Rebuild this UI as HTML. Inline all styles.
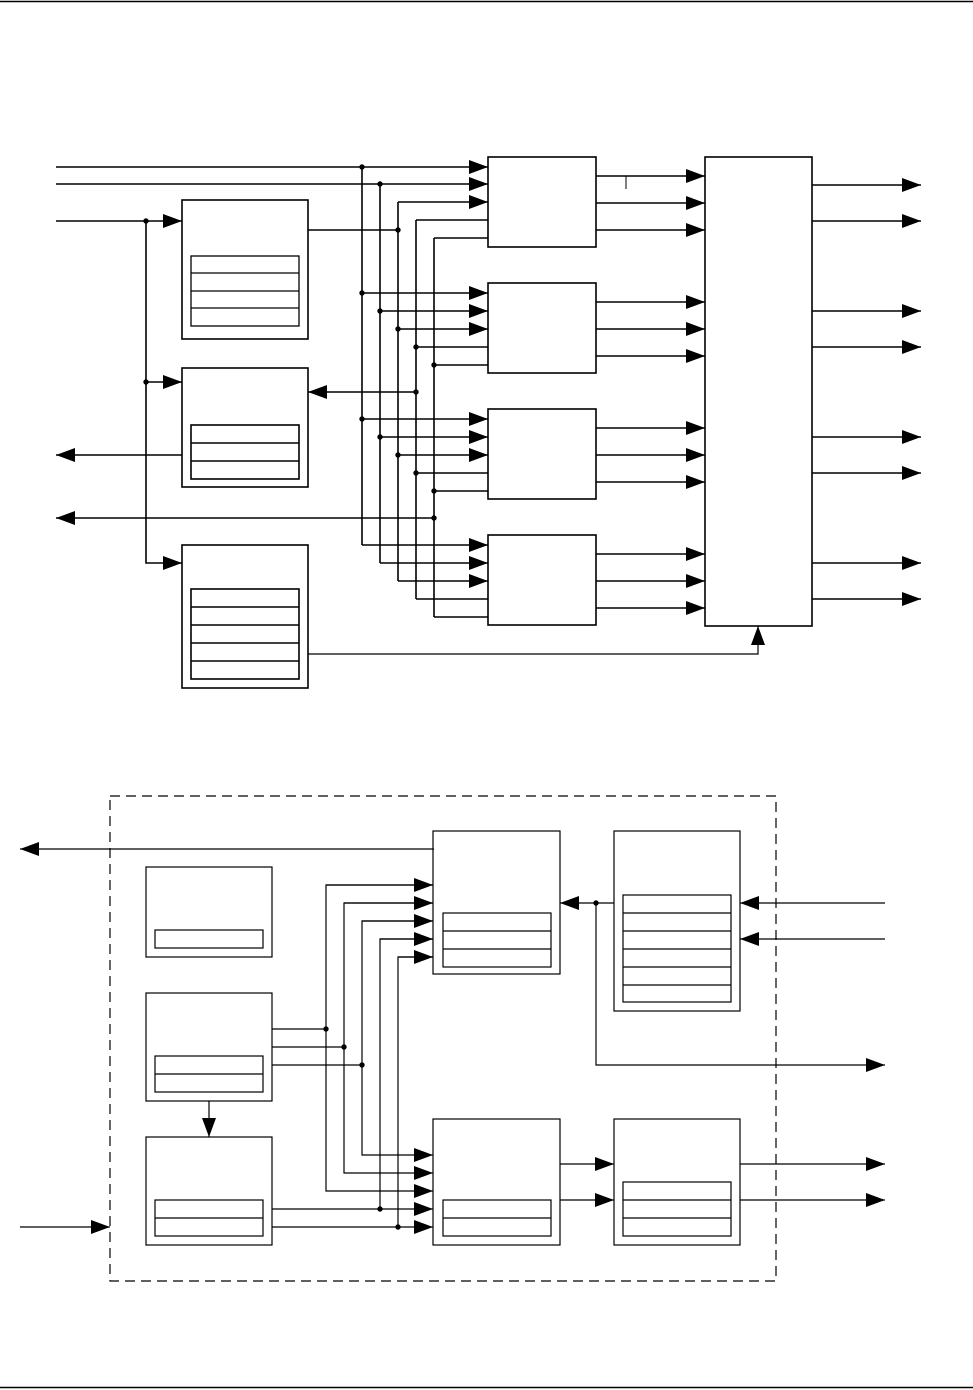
<!DOCTYPE html>
<html><head><meta charset="utf-8"><style>
html,body{margin:0;padding:0;background:#fff;}
svg{display:block;}
</style></head><body>
<svg width="973" height="1390" viewBox="0 0 973 1390" xmlns="http://www.w3.org/2000/svg">
<defs>
<marker id="a" markerUnits="userSpaceOnUse" markerWidth="20" markerHeight="14" refX="19" refY="7" orient="auto"><path d="M0,0 L19,7 L0,14 Z" fill="#000"/></marker>
</defs>
<rect width="973" height="1390" fill="#fff"/>
<line x1="0" y1="1.5" x2="973" y2="1.5" stroke="#000" stroke-width="1.5"/>
<line x1="0" y1="1387.5" x2="973" y2="1387.5" stroke="#000" stroke-width="1.5"/>

<g stroke="#000" stroke-width="1.6" fill="none">
<!-- top inputs -->
<line x1="56" y1="167" x2="488" y2="167" marker-end="url(#a)"/>
<line x1="56" y1="184" x2="488" y2="184" marker-end="url(#a)"/>
<line x1="56" y1="221" x2="182" y2="221" marker-end="url(#a)"/>
<polyline points="146,221 146,563 182,563" marker-end="url(#a)"/>
<line x1="146" y1="382" x2="182" y2="382" marker-end="url(#a)"/>
<!-- blocks left -->
<rect x="182" y="200" width="126" height="139"/>
<rect x="191" y="256" width="108" height="70" stroke-width="1.3"/>
<line x1="191" y1="273" x2="299" y2="273" stroke-width="1.3"/>
<line x1="191" y1="291" x2="299" y2="291" stroke-width="1.3"/>
<line x1="191" y1="308" x2="299" y2="308" stroke-width="1.3"/>
<rect x="182" y="368" width="126" height="119"/>
<rect x="191" y="425" width="108" height="54"/>
<line x1="191" y1="443" x2="299" y2="443"/>
<line x1="191" y1="461" x2="299" y2="461"/>
<rect x="182" y="545" width="126" height="143"/>
<rect x="191" y="589" width="108" height="90"/>
<line x1="191" y1="607" x2="299" y2="607"/>
<line x1="191" y1="625" x2="299" y2="625"/>
<line x1="191" y1="643" x2="299" y2="643"/>
<line x1="191" y1="661" x2="299" y2="661"/>
<!-- left outputs -->
<line x1="182" y1="455" x2="56" y2="455" marker-end="url(#a)"/>
<line x1="434" y1="518" x2="56" y2="518" marker-end="url(#a)"/>
<line x1="416" y1="392" x2="308" y2="392" marker-end="url(#a)"/>
<line x1="308" y1="230" x2="398" y2="230"/>
<polyline points="308,654 758,654 758,626" stroke-width="1.2" marker-end="url(#a)"/>
<!-- buses -->
<line x1="362" y1="167" x2="362" y2="545"/>
<line x1="380" y1="184" x2="380" y2="563"/>
<line x1="398" y1="202" x2="398" y2="581"/>
<line x1="416" y1="220" x2="416" y2="599"/>
<line x1="434" y1="238" x2="434" y2="617"/>
<line x1="398" y1="202" x2="488" y2="202" marker-end="url(#a)"/>
<line x1="416" y1="220" x2="488" y2="220"/>
<line x1="434" y1="238" x2="488" y2="238"/>
<line x1="362" y1="293" x2="488" y2="293" marker-end="url(#a)"/>
<line x1="380" y1="311" x2="488" y2="311" marker-end="url(#a)"/>
<line x1="398" y1="329" x2="488" y2="329" marker-end="url(#a)"/>
<line x1="416" y1="347" x2="488" y2="347"/>
<line x1="434" y1="365" x2="488" y2="365"/>
<line x1="362" y1="419" x2="488" y2="419" marker-end="url(#a)"/>
<line x1="380" y1="437" x2="488" y2="437" marker-end="url(#a)"/>
<line x1="398" y1="455" x2="488" y2="455" marker-end="url(#a)"/>
<line x1="416" y1="473" x2="488" y2="473"/>
<line x1="434" y1="491" x2="488" y2="491"/>
<line x1="362" y1="545" x2="488" y2="545" marker-end="url(#a)"/>
<line x1="380" y1="563" x2="488" y2="563" marker-end="url(#a)"/>
<line x1="398" y1="581" x2="488" y2="581" marker-end="url(#a)"/>
<line x1="416" y1="599" x2="488" y2="599"/>
<line x1="434" y1="617" x2="488" y2="617"/>
<!-- mux blocks -->
<rect x="488" y="157" width="108" height="90"/>
<rect x="488" y="283" width="108" height="90"/>
<rect x="488" y="409" width="108" height="90"/>
<rect x="488" y="535" width="108" height="90"/>
<line x1="596" y1="176" x2="705" y2="176" marker-end="url(#a)"/>
<line x1="596" y1="203" x2="705" y2="203" marker-end="url(#a)"/>
<line x1="596" y1="230" x2="705" y2="230" marker-end="url(#a)"/>
<line x1="626" y1="176" x2="626" y2="189" stroke-width="1"/>
<line x1="596" y1="302" x2="705" y2="302" marker-end="url(#a)"/>
<line x1="596" y1="329" x2="705" y2="329" marker-end="url(#a)"/>
<line x1="596" y1="356" x2="705" y2="356" marker-end="url(#a)"/>
<line x1="596" y1="428" x2="705" y2="428" marker-end="url(#a)"/>
<line x1="596" y1="455" x2="705" y2="455" marker-end="url(#a)"/>
<line x1="596" y1="482" x2="705" y2="482" marker-end="url(#a)"/>
<line x1="596" y1="554" x2="705" y2="554" marker-end="url(#a)"/>
<line x1="596" y1="581" x2="705" y2="581" marker-end="url(#a)"/>
<line x1="596" y1="608" x2="705" y2="608" marker-end="url(#a)"/>
<rect x="705" y="157" width="107" height="469"/>
<line x1="812" y1="185" x2="921" y2="185" marker-end="url(#a)"/>
<line x1="812" y1="221" x2="921" y2="221" marker-end="url(#a)"/>
<line x1="812" y1="311" x2="921" y2="311" marker-end="url(#a)"/>
<line x1="812" y1="347" x2="921" y2="347" marker-end="url(#a)"/>
<line x1="812" y1="437" x2="921" y2="437" marker-end="url(#a)"/>
<line x1="812" y1="473" x2="921" y2="473" marker-end="url(#a)"/>
<line x1="812" y1="563" x2="921" y2="563" marker-end="url(#a)"/>
<line x1="812" y1="599" x2="921" y2="599" marker-end="url(#a)"/>
</g>
<g fill="#000">
<circle cx="146" cy="221" r="2.7"/><circle cx="146" cy="382" r="2.7"/>
<circle cx="362" cy="167" r="2.7"/><circle cx="380" cy="184" r="2.7"/>
<circle cx="398" cy="230" r="2.7"/><circle cx="416" cy="392" r="2.7"/><circle cx="434" cy="518" r="2.7"/>
<circle cx="362" cy="293" r="2.7"/><circle cx="380" cy="311" r="2.7"/><circle cx="398" cy="329" r="2.7"/><circle cx="416" cy="347" r="2.7"/><circle cx="434" cy="365" r="2.7"/>
<circle cx="362" cy="419" r="2.7"/><circle cx="380" cy="437" r="2.7"/><circle cx="398" cy="455" r="2.7"/><circle cx="416" cy="473" r="2.7"/><circle cx="434" cy="491" r="2.7"/>
</g>

<!-- bottom section -->
<g stroke="#000" stroke-width="1.2" fill="none">
<rect x="110" y="796" width="666" height="485" stroke-dasharray="10,6"/>
<line x1="434" y1="849" x2="20" y2="849" marker-end="url(#a)"/>
<rect x="433" y="831" width="127" height="143"/>
<rect x="443" y="913" width="108" height="54"/>
<line x1="443" y1="931" x2="551" y2="931"/><line x1="443" y1="949" x2="551" y2="949"/>
<rect x="614" y="831" width="126" height="180"/>
<rect x="623" y="895" width="108" height="107"/>
<line x1="623" y1="913" x2="731" y2="913"/><line x1="623" y1="931" x2="731" y2="931"/><line x1="623" y1="949" x2="731" y2="949"/><line x1="623" y1="967" x2="731" y2="967"/><line x1="623" y1="985" x2="731" y2="985"/>
<line x1="614" y1="903" x2="560" y2="903" marker-end="url(#a)"/>
<polyline points="596,903 596,1065 885,1065" marker-end="url(#a)"/>
<line x1="885" y1="903" x2="740" y2="903" marker-end="url(#a)"/>
<line x1="885" y1="939" x2="740" y2="939" marker-end="url(#a)"/>
<rect x="146" y="867" width="126" height="90"/>
<rect x="155" y="930" width="108" height="18"/>
<rect x="146" y="993" width="126" height="108"/>
<rect x="155" y="1056" width="108" height="36"/>
<line x1="155" y1="1074" x2="263" y2="1074"/>
<line x1="209" y1="1101" x2="209" y2="1137" marker-end="url(#a)"/>
<rect x="146" y="1137" width="126" height="108"/>
<rect x="155" y="1200" width="108" height="36"/>
<line x1="155" y1="1218" x2="263" y2="1218"/>
<line x1="20" y1="1227" x2="110" y2="1227" marker-end="url(#a)"/>
<line x1="272" y1="1029" x2="326" y2="1029"/>
<line x1="272" y1="1047" x2="344" y2="1047"/>
<line x1="272" y1="1065" x2="362" y2="1065"/>
<polyline points="433,885 326,885 326,1191 433,1191" marker-end="url(#a)"/>
<polyline points="433,903 344,903 344,1173 433,1173" marker-end="url(#a)"/>
<polyline points="433,921 362,921 362,1155 433,1155" marker-end="url(#a)"/>
<polyline points="433,939 380,939 380,1209"/>
<polyline points="433,957 398,957 398,1227"/>
<line x1="380" y1="939" x2="433" y2="939" marker-end="url(#a)"/>
<line x1="398" y1="957" x2="433" y2="957" marker-end="url(#a)"/>
<line x1="326" y1="885" x2="433" y2="885" marker-end="url(#a)"/>
<line x1="344" y1="903" x2="433" y2="903" marker-end="url(#a)"/>
<line x1="362" y1="921" x2="433" y2="921" marker-end="url(#a)"/>
<line x1="272" y1="1209" x2="433" y2="1209" marker-end="url(#a)"/>
<line x1="272" y1="1227" x2="433" y2="1227" marker-end="url(#a)"/>
<rect x="433" y="1119" width="127" height="126"/>
<rect x="443" y="1200" width="108" height="36"/>
<line x1="443" y1="1218" x2="551" y2="1218"/>
<line x1="560" y1="1164" x2="614" y2="1164" marker-end="url(#a)"/>
<line x1="560" y1="1200" x2="614" y2="1200" marker-end="url(#a)"/>
<rect x="614" y="1119" width="126" height="126"/>
<rect x="623" y="1182" width="108" height="54"/>
<line x1="623" y1="1200" x2="731" y2="1200"/><line x1="623" y1="1218" x2="731" y2="1218"/>
<line x1="740" y1="1164" x2="885" y2="1164" marker-end="url(#a)"/>
<line x1="740" y1="1200" x2="885" y2="1200" marker-end="url(#a)"/>
</g>
<g fill="#000">
<circle cx="596" cy="903" r="2.7"/>
<circle cx="326" cy="1029" r="2.7"/><circle cx="344" cy="1047" r="2.7"/><circle cx="362" cy="1065" r="2.7"/>
<circle cx="380" cy="1209" r="2.7"/><circle cx="398" cy="1227" r="2.7"/>
</g>
</svg>
</body></html>
